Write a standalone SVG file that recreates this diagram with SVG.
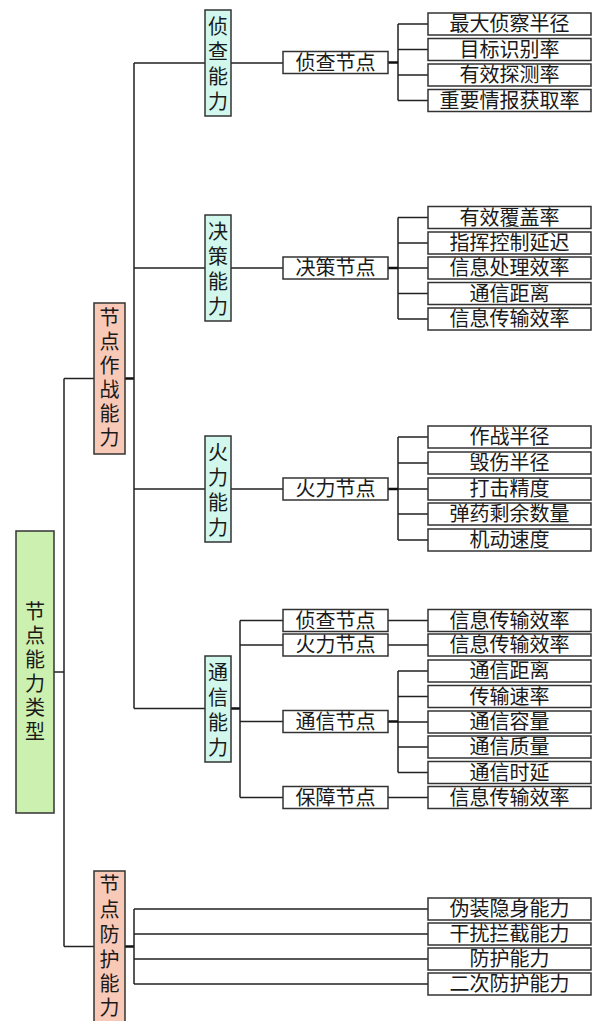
<svg xmlns="http://www.w3.org/2000/svg" width="595" height="1021" viewBox="0 0 595 1021">
<style>
text{font-family:"Liberation Serif","Noto Sans CJK SC",serif;font-size:20px;fill:#1a1a1a;text-anchor:middle}
.box{stroke:#333;stroke-width:1.5}
.leaf,.mid{fill:#fff}
.cap{fill:#d2f8ee}
.side{fill:#f9c9b8}
.root{fill:#ccf0b0}
.ln{stroke:#222;stroke-width:1.5;fill:none}
.stub{stroke:#111;stroke-width:2.5;fill:none}
</style>
<rect width="595" height="1021" fill="#fff"/>
<g id="connectors">
<path class="ln" d="M54 672H64M64 378.5V946.5M64 378.5H94M64 946.5H94"/>
<path class="stub" d="M125 378.5H134"/>
<path class="ln" d="M134 63V708.5M134 63H205M134 268H205M134 489H205M134 708.5H205"/>
<path class="ln" d="M231 63H283M398 24V100.5M398 24H428M398 49.5H428M398 75H428M398 100.5H428"/>
<path class="stub" d="M388 62.5H398"/>
<path class="ln" d="M231 268H283M398 217.5V319M398 217.5H428M398 243H428M398 268H428M398 293.5H428M398 319H428"/>
<path class="stub" d="M388 268H398"/>
<path class="ln" d="M231 489H283M398 437V540M398 437H428M398 463H428M398 489H428M398 514H428M398 540H428"/>
<path class="stub" d="M388 489H398"/>
<path class="stub" d="M231 708.5H240"/>
<path class="ln" d="M240 620.5V797.5M240 620.5H283M240 645H283M240 721.5H283M240 797.5H283"/>
<path class="ln" d="M388 620.5H428M388 645H428M388 797.5H428"/>
<path class="ln" d="M398 671V772.5M398 671H428M398 696.5H428M398 722H428M398 747H428M398 772.5H428"/>
<path class="stub" d="M388 721.5H398"/>
<path class="stub" d="M125 946.5H134"/>
<path class="ln" d="M134 909V984M134 909H428M134 934H428M134 959H428M134 984H428"/>
</g>
<g id="root">
<rect class="box root" x="16" y="531" width="38" height="282"/>
<text x="35" y="619">节</text><text x="35" y="643">点</text><text x="35" y="667">能</text><text x="35" y="691">力</text><text x="35" y="715">类</text><text x="35" y="739">型</text>
</g>
<g id="combat">
<rect class="box side" x="94" y="303" width="31" height="151"/>
<text x="109.5" y="325">节</text><text x="109.5" y="349">点</text><text x="109.5" y="373">作</text><text x="109.5" y="397">战</text><text x="109.5" y="421">能</text><text x="109.5" y="445">力</text>
</g>
<g id="defense">
<rect class="box side" x="94" y="871" width="31" height="170"/>
<text x="109.5" y="892">节</text><text x="109.5" y="916.5">点</text><text x="109.5" y="942">防</text><text x="109.5" y="967">护</text><text x="109.5" y="991">能</text><text x="109.5" y="1015">力</text>
</g>
<g id="recon-cap">
<rect class="box cap" x="205" y="10" width="26" height="106"/>
<text x="218" y="34">侦</text><text x="218" y="59">查</text><text x="218" y="84">能</text><text x="218" y="109">力</text>
</g>
<g id="decision-cap">
<rect class="box cap" x="205" y="215" width="26" height="106"/>
<text x="218" y="239">决</text><text x="218" y="264">策</text><text x="218" y="289">能</text><text x="218" y="314">力</text>
</g>
<g id="fire-cap">
<rect class="box cap" x="205" y="436" width="26" height="106"/>
<text x="218" y="460">火</text><text x="218" y="485">力</text><text x="218" y="510">能</text><text x="218" y="535">力</text>
</g>
<g id="comm-cap">
<rect class="box cap" x="205" y="656" width="26" height="106"/>
<text x="218" y="680">通</text><text x="218" y="705">信</text><text x="218" y="730">能</text><text x="218" y="755">力</text>
</g>
<g id="mid-recon"><rect class="box mid" x="283" y="51.5" width="105" height="22"/><text x="335.5" y="69.5">侦查节点</text></g>
<g id="mid-decision"><rect class="box mid" x="283" y="257" width="105" height="22"/><text x="335.5" y="275">决策节点</text></g>
<g id="mid-fire"><rect class="box mid" x="283" y="478" width="105" height="22"/><text x="335.5" y="496">火力节点</text></g>
<g id="mid-c-recon"><rect class="box mid" x="283" y="609.5" width="105" height="22"/><text x="335.5" y="627.5">侦查节点</text></g>
<g id="mid-c-fire"><rect class="box mid" x="283" y="634" width="105" height="22"/><text x="335.5" y="652">火力节点</text></g>
<g id="mid-c-comm"><rect class="box mid" x="283" y="710.5" width="105" height="22"/><text x="335.5" y="728.5">通信节点</text></g>
<g id="mid-c-support"><rect class="box mid" x="283" y="786.5" width="105" height="22"/><text x="335.5" y="804.5">保障节点</text></g>
<g id="leaf-r1"><rect class="box leaf" x="428" y="13" width="163" height="22"/><text x="509.5" y="31">最大侦察半径</text></g>
<g id="leaf-r2"><rect class="box leaf" x="428" y="38.5" width="163" height="22"/><text x="509.5" y="56.5">目标识别率</text></g>
<g id="leaf-r3"><rect class="box leaf" x="428" y="64" width="163" height="22"/><text x="509.5" y="82">有效探测率</text></g>
<g id="leaf-r4"><rect class="box leaf" x="428" y="89.5" width="163" height="22"/><text x="509.5" y="107.5">重要情报获取率</text></g>
<g id="leaf-d1"><rect class="box leaf" x="428" y="206.5" width="163" height="22"/><text x="509.5" y="224.5">有效覆盖率</text></g>
<g id="leaf-d2"><rect class="box leaf" x="428" y="232" width="163" height="22"/><text x="509.5" y="250">指挥控制延迟</text></g>
<g id="leaf-d3"><rect class="box leaf" x="428" y="257" width="163" height="22"/><text x="509.5" y="275">信息处理效率</text></g>
<g id="leaf-d4"><rect class="box leaf" x="428" y="282.5" width="163" height="22"/><text x="509.5" y="300.5">通信距离</text></g>
<g id="leaf-d5"><rect class="box leaf" x="428" y="308" width="163" height="22"/><text x="509.5" y="326">信息传输效率</text></g>
<g id="leaf-f1"><rect class="box leaf" x="428" y="426" width="163" height="22"/><text x="509.5" y="444">作战半径</text></g>
<g id="leaf-f2"><rect class="box leaf" x="428" y="452" width="163" height="22"/><text x="509.5" y="470">毁伤半径</text></g>
<g id="leaf-f3"><rect class="box leaf" x="428" y="478" width="163" height="22"/><text x="509.5" y="496">打击精度</text></g>
<g id="leaf-f4"><rect class="box leaf" x="428" y="503" width="163" height="22"/><text x="509.5" y="521">弹药剩余数量</text></g>
<g id="leaf-f5"><rect class="box leaf" x="428" y="529" width="163" height="22"/><text x="509.5" y="547">机动速度</text></g>
<g id="leaf-c1"><rect class="box leaf" x="428" y="609.5" width="163" height="22"/><text x="509.5" y="627.5">信息传输效率</text></g>
<g id="leaf-c2"><rect class="box leaf" x="428" y="634" width="163" height="22"/><text x="509.5" y="652">信息传输效率</text></g>
<g id="leaf-c3"><rect class="box leaf" x="428" y="660" width="163" height="22"/><text x="509.5" y="678">通信距离</text></g>
<g id="leaf-c4"><rect class="box leaf" x="428" y="685.5" width="163" height="22"/><text x="509.5" y="703.5">传输速率</text></g>
<g id="leaf-c5"><rect class="box leaf" x="428" y="711" width="163" height="22"/><text x="509.5" y="729">通信容量</text></g>
<g id="leaf-c6"><rect class="box leaf" x="428" y="736" width="163" height="22"/><text x="509.5" y="754">通信质量</text></g>
<g id="leaf-c7"><rect class="box leaf" x="428" y="761.5" width="163" height="22"/><text x="509.5" y="779.5">通信时延</text></g>
<g id="leaf-c8"><rect class="box leaf" x="428" y="786.5" width="163" height="22"/><text x="509.5" y="804.5">信息传输效率</text></g>
<g id="leaf-p1"><rect class="box leaf" x="428" y="898" width="163" height="22"/><text x="509.5" y="916">伪装隐身能力</text></g>
<g id="leaf-p2"><rect class="box leaf" x="428" y="923" width="163" height="22"/><text x="509.5" y="941">干扰拦截能力</text></g>
<g id="leaf-p3"><rect class="box leaf" x="428" y="948" width="163" height="22"/><text x="509.5" y="966">防护能力</text></g>
<g id="leaf-p4"><rect class="box leaf" x="428" y="973" width="163" height="22"/><text x="509.5" y="991">二次防护能力</text></g>
</svg>
